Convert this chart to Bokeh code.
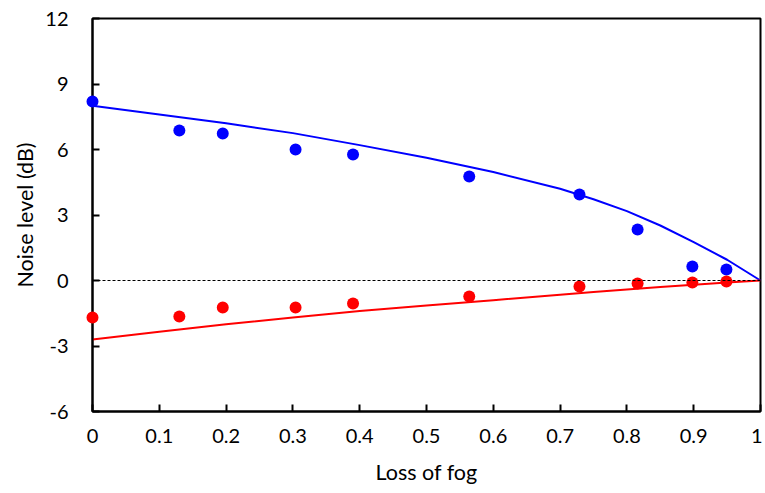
from bokeh.plotting import figure
from bokeh.models import FixedTicker, Span, Range1d
from bokeh.embed import file_html
from bokeh.resources import INLINE

# measured points
loss = [0.0, 0.13, 0.195, 0.304, 0.39, 0.564, 0.729, 0.816, 0.898, 0.949]
blue_pts = [8.2, 6.87, 6.73, 6.0, 5.77, 4.76, 3.94, 2.34, 0.64, 0.50]
red_pts = [-1.69, -1.65, -1.24, -1.24, -1.05, -0.73, -0.27, -0.14, -0.09, -0.05]

# model curves
curve_x = [0.0, 0.1, 0.2, 0.3, 0.4, 0.5, 0.6, 0.7, 0.75, 0.8, 0.85, 0.9, 0.95, 1.0]
blue_curve = [8.0, 7.6, 7.2, 6.75, 6.2, 5.62, 4.97, 4.2, 3.72, 3.18, 2.52, 1.76, 0.95, 0.0]
red_curve = [-2.7, -2.35, -2.0, -1.7, -1.4, -1.15, -0.9, -0.65, -0.53, -0.41, -0.3, -0.19, -0.09, 0.0]

x_ticks = [0.0, 0.1, 0.2, 0.3, 0.4, 0.5, 0.6, 0.7, 0.8, 0.9, 1.0]
x_labels = ["0", "0.1", "0.2", "0.3", "0.4", "0.5", "0.6", "0.7", "0.8", "0.9", "1"]
y_ticks = [-6, -3, 0, 3, 6, 9, 12]
y_labels = ["-6", "-3", "0", "3", "6", "9", "12"]

FONT = "Lato"

p = figure(frame_width=668, frame_height=393, output_backend="svg", toolbar_location=None,
           x_range=Range1d(0, 1), y_range=Range1d(-6, 12),
           min_border_left=92, min_border_right=2, min_border_top=18, min_border_bottom=40)
p.grid.visible = False
p.outline_line_color = "black"
p.outline_line_width = 2
p.background_fill_color = "white"

for ax in (p.xaxis[0], p.yaxis[0]):
    ax.axis_line_width = 2
    ax.axis_line_color = "black"
    ax.major_tick_in = 7
    ax.major_tick_out = 0
    ax.major_tick_line_width = 2
    ax.minor_tick_line_color = None
    ax.major_label_text_font = FONT
    ax.major_label_text_font_size = "20px"
    ax.major_label_text_color = "black"
    ax.axis_label_text_font = FONT
    ax.axis_label_text_font_size = "21.5px"
    ax.axis_label_text_font_style = "normal"
    ax.axis_label_text_color = "black"

p.xaxis.ticker = FixedTicker(ticks=x_ticks)
p.xaxis.major_label_overrides = {t: l for t, l in zip(x_ticks, x_labels)}
p.xaxis.major_label_standoff = 17
p.xaxis.axis_label = "Loss of fog"
p.xaxis.axis_label_standoff = 13

p.yaxis.ticker = FixedTicker(ticks=y_ticks)
p.yaxis.major_label_overrides = {t: l for t, l in zip(y_ticks, y_labels)}
p.yaxis.major_label_standoff = 24
p.yaxis.axis_label = "Noise level (dB)"
p.yaxis.axis_label_standoff = 4

p.add_layout(Span(location=0, dimension="width", line_color="black",
                  line_width=1, line_dash="3 2"))

p.line(curve_x, blue_curve, line_color="#0000ff", line_width=2)
p.line(curve_x, red_curve, line_color="#ff0000", line_width=2)
p.scatter(loss, blue_pts, size=12, fill_color="#0000ff", line_color=None, level="annotation")
p.scatter(loss, red_pts, size=12, fill_color="#ff0000", line_color=None, level="annotation")

open("out.html", "w").write(file_html(p, INLINE))
